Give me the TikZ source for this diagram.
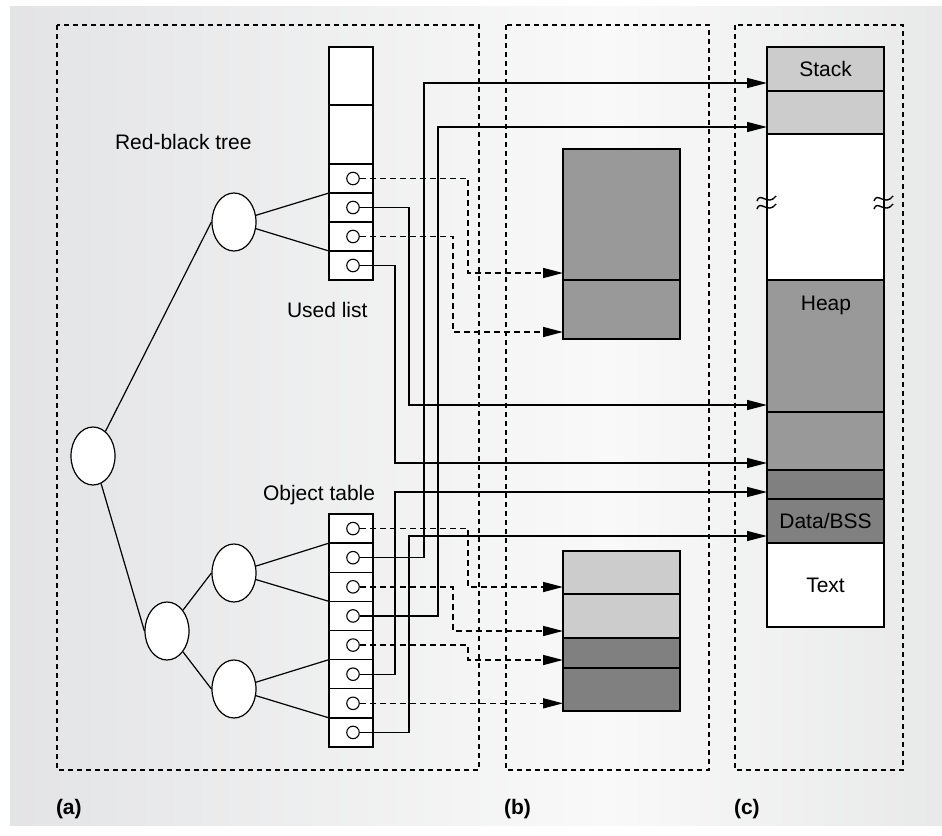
\documentclass[tikz,border=0pt]{standalone}
\usepackage{fontspec}
\setmainfont{Liberation Sans}
\usetikzlibrary{arrows.meta,shapes.geometric}
\definecolor{bgL}{RGB}{210,211,214}
\definecolor{bgM}{RGB}{249,249,249}
\definecolor{bgR}{RGB}{209,210,212}
\definecolor{lightg}{RGB}{204,204,204}
\definecolor{midg}{RGB}{153,153,153}
\definecolor{darkg}{RGB}{128,128,128}
\pgfdeclarehorizontalshading{bgshade}{100bp}{color(0bp)=(bgL); color(57bp)=(bgM); color(100bp)=(bgR)}
\begin{document}
\begin{tikzpicture}[x=1pt,y=-1pt,font=\fontsize{21}{25}\selectfont,
  cell/.style={draw,line width=1.4pt,fill=white,minimum width=44pt,inner sep=0pt,outer sep=0pt},
  blk/.style={draw,line width=1.4pt,minimum width=117pt,inner sep=0pt,outer sep=0pt},
  ptr/.style={circle,draw,fill=white,line width=1.1pt,minimum size=12.5pt,inner sep=0pt},
  tnode/.style={ellipse,draw,fill=white,line width=1.2pt,minimum width=44pt,minimum height=58pt,inner sep=0pt},
  treeline/.style={line width=1.2pt},
  link/.style={line width=1.3pt,-{Triangle[length=20pt,width=10pt]}},
  dlink/.style={link,line width=1.5pt,dash pattern=on 6pt off 4pt},
  panel/.style={line width=1.2pt,dash pattern=on 5pt off 4pt},
  brk/.style={line width=1.4pt},
  txt/.style={inner sep=0pt,outer sep=0pt},
  lbl/.style={txt,anchor=base west,font=\bfseries\fontsize{21}{25}\selectfont}]
\useasboundingbox (0,0) rectangle (942,835);
% background
\shade[shading=bgshade] (10,6) rectangle (942,825);
% panels
\draw[panel] (57,25) rectangle (479,770);
\draw[panel] (506,25) rectangle (709,770);
\draw[panel] (735,25) rectangle (903,770);
% labels
\node[txt,anchor=base west] (rbt) at (115,149) {Red-black tree};
\node[txt,anchor=base west] (ul) at (287,317) {Used list};
\node[txt,anchor=base west] (ot) at (263,500) {Object table};
\node[lbl] (la) at (56,814) {(a)};
\node[lbl] (lb) at (504,814) {(b)};
\node[lbl] (lc) at (734,814) {(c)};
% used list
\node[cell,minimum height=58pt] (ua) at (351,76) {};
\node[cell,minimum height=59pt] (ub) at (351,134.5) {};
\foreach \i/\y in {1/178.5,2/207.5,3/236.5,4/265.5}{
  \node[cell,minimum height=29pt] (u\i) at (351,\y) {};
  \node[ptr] (uc\i) at (353,\y) {};
}
% object table
\foreach \i in {1,...,8}{
  \node[cell,minimum height=29.125pt] (o\i) at (351,{514+29.125*(\i-0.5)}) {};
  \node[ptr] (oc\i) at (353,{514+29.125*(\i-0.5)}) {};
}
% tree
\node[tnode] (r) at (93,456) {};
\node[tnode] (n1) at (234,222) {};
\node[tnode] (n2) at (167,631) {};
\node[tnode] (n3) at (234,573) {};
\node[tnode] (n4) at (234,689) {};
\draw[treeline] (r) -- (n1.west);
\draw[treeline] (r) -- (n2.west);
\draw[treeline] (n2) -- (n3.west);
\draw[treeline] (n2) -- (n4.west);
\draw[treeline] (n1) -- (u1.south west);
\draw[treeline] (n1) -- (u3.south west);
\draw[treeline] (n3) -- (o1.south west);
\draw[treeline] (n3) -- (o3.south west);
\draw[treeline] (n4) -- (o5.south west);
\draw[treeline] (n4) -- (o7.south west);
% blocks (b)
\node[blk,fill=midg,minimum height=131pt] (b1) at (621.5,214.5) {};
\node[blk,fill=midg,minimum height=59pt] (b2) at (621.5,309.5) {};
\node[blk,fill=lightg,minimum height=43pt] (c1) at (621.5,572.5) {};
\node[blk,fill=lightg,minimum height=44pt] (c2) at (621.5,616) {};
\node[blk,fill=darkg,minimum height=30pt] (c3) at (621.5,653) {};
\node[blk,fill=darkg,minimum height=43pt] (c4) at (621.5,689.5) {};
% memory (c)
\node[blk,fill=lightg,minimum height=44pt] (m1) at (825.5,69) {Stack};
\node[blk,fill=lightg,minimum height=43pt] (m2) at (825.5,112.5) {};
\node[blk,fill=white,minimum height=146pt] (m3) at (825.5,207) {};
\node[blk,fill=midg,minimum height=132pt] (m4) at (825.5,346) {};
\node[blk,fill=midg,minimum height=58pt] (m5) at (825.5,441) {};
\node[blk,fill=darkg,minimum height=29pt] (m6) at (825.5,484.5) {};
\node[blk,fill=darkg,minimum height=44pt] (m7) at (825.5,521) {Data/BSS};
\node[blk,fill=white,minimum height=84pt] (m8) at (825.5,585) {Text};
\node[txt,anchor=base] (heap) at (826,310) {Heap};
% break marks
\foreach \bx in {767,884}{
  \foreach \dy in {-4,4}{
    \draw[brk] (\bx-10,203+\dy+2) .. controls (\bx-7,203+\dy-8) and (\bx+1,203+\dy+8) .. (\bx+9,203+\dy-3);
  }
}
% bend and target coordinates
\coordinate (k1) at (468,273);  \coordinate (t1) at (563,273);
\coordinate (k2) at (453,332);  \coordinate (t2) at (563,332);
\coordinate (k3) at (409,405);  \coordinate (t3) at (767,405);
\coordinate (k4) at (395,463);  \coordinate (t4) at (767,463);
\coordinate (k5) at (468,587);  \coordinate (t5) at (563,587);
\coordinate (k6) at (424,83);   \coordinate (t6) at (767,83);
\coordinate (k7) at (453,631);  \coordinate (t7) at (563,631);
\coordinate (k8) at (438,127);  \coordinate (t8) at (767,127);
\coordinate (k9) at (468,660);  \coordinate (t9) at (563,660);
\coordinate (k10) at (395,492); \coordinate (t10) at (767,492);
\coordinate (k11) at (409,536); \coordinate (t11) at (767,536);
% connectors from used list
\draw[dlink] (uc1.east) -| (k1) -- (t1);
\draw[dlink] (uc3.east) -| (k2) -- (t2);
\draw[link] (uc2.east) -| (k3) -- (t3);
\draw[link] (uc4.east) -| (k4) -- (t4);
% connectors from object table
\draw[dlink] (oc1.east) -| (k5) -- (t5);
\draw[link] (oc2.east) -| (k6) -- (t6);
\draw[dlink] (oc3.east) -| (k7) -- (t7);
\draw[link] (oc4.east) -| (k8) -- (t8);
\draw[dlink] (oc5.east) -| (k9) -- (t9);
\draw[link] (oc6.east) -| (k10) -- (t10);
\draw[dlink] (oc7.east) -- (oc7.east -| c4.west);
\draw[link] (oc8.east) -| (k11) -- (t11);
\end{tikzpicture}
\end{document}
